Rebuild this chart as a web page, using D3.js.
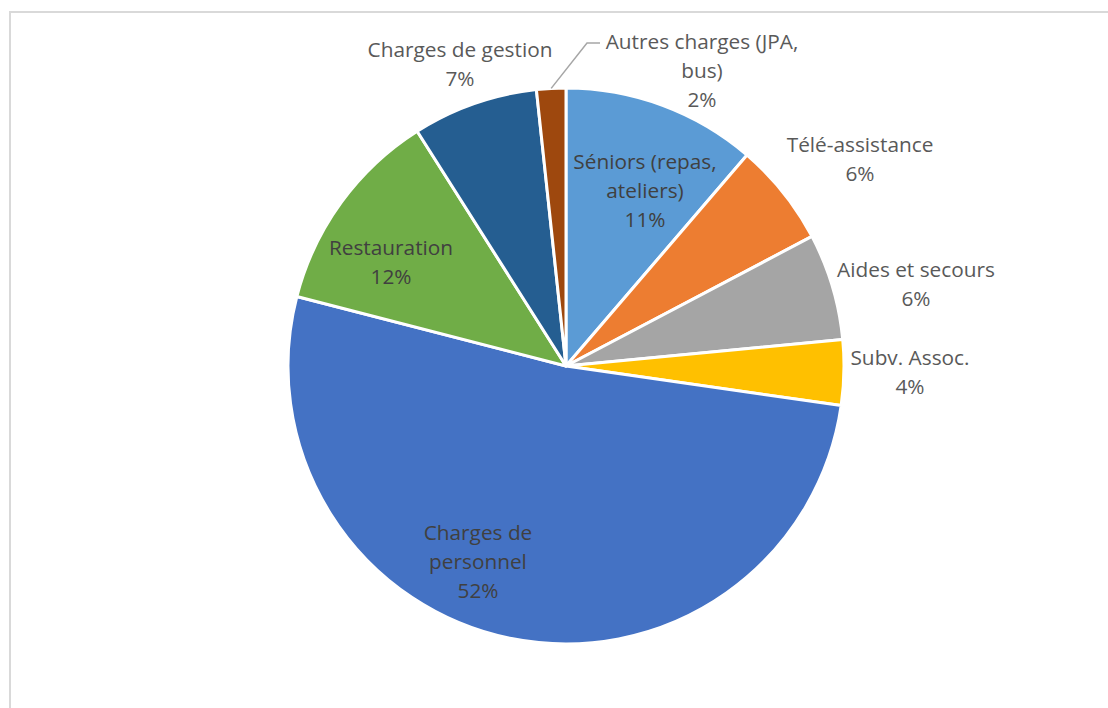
<!DOCTYPE html>
<html><head><meta charset="utf-8">
<script src="https://cdn.jsdelivr.net/npm/d3@7"></script>
<style>html,body{margin:0;padding:0;background:#fff;overflow:hidden}</style>
</head><body>
<svg id="c" width="1108" height="708"></svg>
<script>
const categories = ["Séniors (repas, ateliers)","Télé-assistance","Aides et secours","Subv. Assoc.","Charges de personnel","Restauration","Charges de gestion","Autres charges (JPA, bus)"];
const values = [11.3, 6.0, 6.2, 3.8, 51.8, 12.0, 7.3, 1.7];
const percentLabels = ["11%","6%","6%","4%","52%","12%","7%","2%"];
const labelLines = [["Séniors (repas,","ateliers)"],["Télé-assistance"],["Aides et secours"],["Subv. Assoc."],["Charges de","personnel"],["Restauration"],["Charges de gestion"],["Autres charges (JPA,","bus)"]];
const colors = ["#5B9BD5","#ED7D31","#A5A5A5","#FFC000","#4472C4","#70AD47","#255E91","#9E480E"];
const labelPos = [[645,169,true],[860,152,false],[916,277,false],[910,365,false],[478,540,true],[391,255,true],[460,57,false],[702,49,false]];

const svg = d3.select("#c");
svg.append("rect").attr("x",10).attr("y",12).attr("width",1120).attr("height",720)
  .attr("fill","#fff").attr("stroke","#d9d9d9").attr("stroke-width",2);

const cx = 566, cy = 366, r = 278;
const g = svg.append("g").attr("transform",`translate(${cx},${cy})`);
const pie = d3.pie().sort(null).value(d=>d);
const arc = d3.arc().innerRadius(0).outerRadius(r);
const arcs = pie(values);
g.selectAll("path").data(arcs).join("path")
  .attr("d",arc).attr("fill",(d,i)=>colors[i])
  .attr("stroke","#fff").attr("stroke-width",3).attr("stroke-linejoin","round");

const a7 = arcs[7];
const mid = (a7.startAngle+a7.endAngle)/2;
const px = cx + Math.sin(mid)*r, py = cy - Math.cos(mid)*r;
svg.append("polyline").attr("points",`${px},${py} ${587},${43} ${600},${43}`)
  .attr("fill","none").attr("stroke","#a6a6a6").attr("stroke-width",1.5);

const lh = 29;
labelPos.forEach((p,i)=>{
  const lines = labelLines[i].concat([percentLabels[i]]);
  const t = svg.append("text").attr("text-anchor","middle")
    .attr("font-family","'Open Sans', 'Noto Sans', sans-serif")
    .attr("font-size",20.8).attr("fill", p[2] ? "#404040" : "#595959");
  lines.forEach((l,j)=>{
    t.append("tspan").attr("x",p[0]).attr("y",p[1]+j*lh).text(l);
  });
});
</script>
</body></html>
